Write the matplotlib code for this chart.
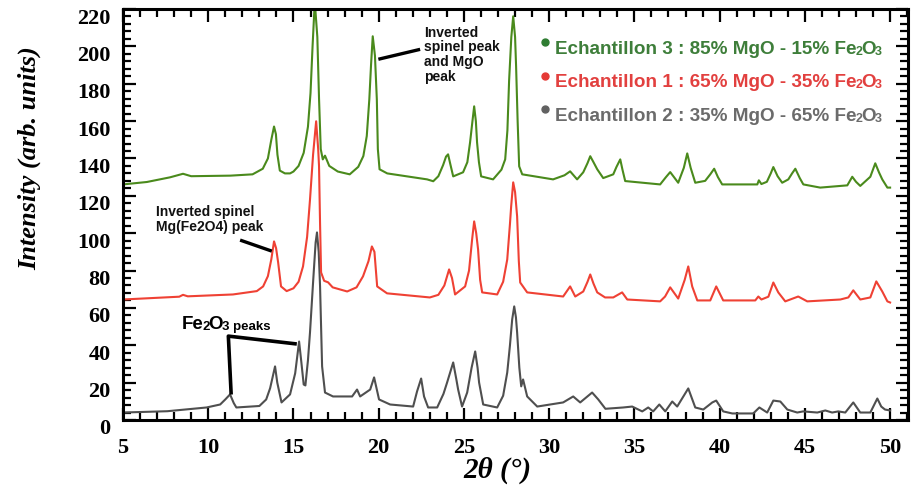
import matplotlib
matplotlib.use("Agg")
import matplotlib.pyplot as plt
import matplotlib.transforms as mtransforms
from matplotlib.ticker import MultipleLocator

# XRD patterns: (2theta in degrees, intensity in arb. units)
green_pts = [(5.0, 126.1), (6.4, 127.4), (7.76, 129.9), (8.52, 131.8), (9.0, 130.5), (11.3, 130.8),
             (12.6, 131.5), (13.2, 134.5), (13.5, 140.0), (13.7, 150.0), (13.86, 157.1), (13.97, 153.0),
             (14.06, 142.0), (14.2, 133.5), (14.5, 132.0), (14.8, 132.0), (15.0, 133.0), (15.3, 136.0),
             (15.6, 143.0), (15.85, 157.0), (16.0, 175.0), (16.12, 200.0), (16.25, 224.0), (16.4, 205.0),
             (16.5, 172.0), (16.6, 145.0), (16.72, 139.5), (16.85, 141.5), (17.1, 136.0), (17.6, 133.0),
             (18.3, 131.5), (18.8, 135.5), (19.1, 141.3), (19.3, 152.0), (19.45, 171.7), (19.55, 190.0),
             (19.65, 205.4), (19.78, 195.0), (19.89, 171.7), (19.95, 145.0), (20.05, 134.2), (20.5, 132.0),
             (22.84, 128.8), (23.2, 127.8), (23.5, 130.5), (23.78, 136.5), (23.95, 141.0), (24.07, 142.2),
             (24.2, 137.0), (24.37, 130.4), (24.95, 132.6), (25.2, 138.0), (25.36, 148.6), (25.5, 160.0),
             (25.6, 167.9), (25.7, 160.0), (25.77, 148.6), (25.88, 138.0), (26.01, 130.4), (26.71, 128.8),
             (27.2, 134.0), (27.42, 139.5), (27.55, 155.0), (27.65, 181.7), (27.78, 205.0), (27.89, 216.1),
             (28.0, 205.0), (28.06, 189.3), (28.15, 160.0), (28.24, 135.8), (28.42, 131.5), (30.23, 128.8),
             (30.9, 131.0), (31.23, 133.1), (31.64, 128.8), (32.0, 132.6), (32.25, 137.5), (32.41, 141.2),
             (32.6, 138.0), (32.82, 134.2), (33.17, 129.5), (33.76, 131.5), (33.95, 135.5), (34.17, 139.5),
             (34.3, 134.0), (34.46, 127.9), (36.51, 126.1), (36.85, 130.0), (37.1, 132.7), (37.57, 127.0),
             (37.9, 135.0), (38.1, 142.7), (38.3, 135.0), (38.57, 127.0), (39.15, 128.0), (39.45, 131.5),
             (39.68, 134.5), (39.9, 130.0), (40.15, 126.1), (42.21, 126.1), (42.3, 128.3), (42.45, 126.3),
             (42.77, 127.5), (43.0, 132.0), (43.15, 135.4), (43.4, 130.5), (43.67, 127.0), (44.03, 128.8),
             (44.25, 132.0), (44.44, 134.5), (44.7, 129.5), (44.91, 126.1), (45.9, 124.4), (47.49, 125.6),
             (47.78, 130.2), (48.0, 127.5), (48.25, 125.3), (48.84, 130.2), (49.13, 137.4), (49.35, 132.5),
             (49.54, 128.8), (49.84, 124.4), (50.0, 124.4)]

red_pts = [(5.0, 64.5), (8.3, 66.0), (8.52, 67.0), (8.8, 66.2), (11.45, 67.2), (12.85, 69.0), (13.22, 71.5),
           (13.5, 77.0), (13.7, 86.0), (13.86, 95.6), (13.98, 92.0), (14.1, 84.4), (14.27, 71.5), (14.6, 69.0),
           (15.0, 70.5), (15.3, 74.0), (15.56, 82.2), (15.8, 98.0), (15.97, 118.0), (16.15, 142.0),
           (16.33, 159.9), (16.45, 145.0), (16.5, 135.8), (16.56, 105.0), (16.62, 79.0), (16.8, 74.5),
           (17.03, 73.7), (17.3, 71.0), (18.15, 68.8), (18.7, 71.0), (19.08, 76.9), (19.4, 85.0), (19.6, 92.9),
           (19.75, 90.0), (19.91, 71.5), (20.49, 67.8), (23.0, 65.6), (23.5, 67.0), (23.85, 72.0),
           (24.13, 80.6), (24.3, 76.0), (24.48, 67.2), (25.07, 71.5), (25.3, 80.0), (25.48, 96.7),
           (25.6, 106.3), (25.72, 100.0), (25.83, 91.3), (25.95, 75.0), (26.07, 68.3), (26.95, 67.2),
           (27.3, 74.0), (27.54, 85.9), (27.7, 105.0), (27.77, 114.3), (27.89, 127.2), (28.0, 122.0),
           (28.12, 109.0), (28.22, 85.0), (28.3, 73.6), (28.71, 68.3), (30.82, 66.1), (31.23, 71.5),
           (31.53, 66.1), (32.0, 68.8), (32.25, 74.0), (32.41, 77.9), (32.6, 73.0), (32.82, 68.3),
           (33.28, 65.6), (33.76, 65.6), (34.28, 68.3), (34.58, 64.5), (36.51, 63.5), (36.8, 66.1),
           (37.1, 71.0), (37.57, 65.0), (37.95, 75.0), (38.16, 82.2), (38.39, 71.5), (38.69, 64.0),
           (39.45, 64.0), (39.8, 71.5), (40.21, 64.0), (42.09, 64.0), (42.27, 66.1), (42.45, 64.5),
           (42.86, 66.0), (43.15, 73.6), (43.44, 68.3), (43.85, 63.5), (44.61, 66.1), (45.14, 63.5),
           (47.08, 64.5), (47.55, 65.6), (47.84, 69.4), (48.25, 64.5), (48.84, 65.6), (49.19, 74.2),
           (49.54, 68.8), (49.84, 63.5), (50.0, 62.9)]

gray_pts = [(5.0, 4.0), (7.6, 4.7), (9.9, 6.7), (10.7, 8.3), (11.0, 11.0), (11.28, 13.7), (11.5, 9.0),
            (11.65, 6.7), (13.0, 7.5), (13.4, 11.0), (13.63, 17.0), (13.92, 28.7), (14.05, 20.0),
            (14.3, 9.4), (14.8, 13.7), (15.1, 25.0), (15.33, 42.0), (15.45, 32.0), (15.6, 19.0),
            (15.7, 18.5), (15.85, 32.0), (15.97, 46.9), (16.15, 73.6), (16.3, 95.0), (16.38, 100.4),
            (16.48, 90.0), (16.56, 71.5), (16.62, 50.0), (16.68, 28.7), (16.85, 14.7), (17.32, 12.6),
            (18.44, 12.6), (18.73, 16.3), (18.91, 12.6), (19.5, 16.3), (19.73, 22.8), (20.02, 11.0),
            (20.67, 8.3), (22.02, 7.2), (22.25, 15.3), (22.49, 22.2), (22.66, 12.6), (22.9, 6.7),
            (23.43, 6.7), (23.8, 14.0), (24.01, 20.0), (24.37, 30.8), (24.55, 22.0), (24.66, 16.3),
            (24.89, 7.2), (25.19, 14.7), (25.45, 28.0), (25.66, 36.7), (25.8, 28.0), (25.89, 20.0),
            (26.13, 8.3), (26.95, 6.7), (27.3, 13.0), (27.54, 25.4), (27.7, 40.0), (27.83, 53.8),
            (27.95, 60.8), (28.05, 55.0), (28.12, 46.9), (28.25, 28.0), (28.36, 18.0), (28.47, 21.7),
            (28.71, 12.6), (29.3, 7.2), (30.82, 9.4), (31.41, 12.6), (31.82, 9.4), (32.52, 14.7),
            (32.88, 11.0), (33.3, 6.0), (34.34, 6.7), (34.87, 7.2), (35.46, 4.6), (35.81, 6.7), (36.1, 4.6),
            (36.46, 8.3), (36.81, 4.6), (37.22, 9.9), (37.51, 7.2), (38.16, 16.9), (38.57, 6.7), (39.04, 5.6),
            (39.57, 9.4), (39.8, 10.4), (40.21, 4.6), (40.74, 3.5), (41.97, 3.5), (42.33, 6.7), (42.79, 4.0),
            (43.15, 10.4), (43.56, 9.9), (43.97, 5.6), (44.55, 4.0), (44.9, 4.6), (45.73, 4.0), (46.2, 5.1),
            (46.6, 4.0), (46.96, 4.6), (47.37, 4.0), (47.84, 9.4), (48.25, 4.0), (48.84, 4.0), (49.25, 11.5),
            (49.48, 7.2), (49.7, 5.6), (50.0, 5.1)]

legend_items = [
    ("Echantillon 3 : 85% MgO - 15% Fe", "#2f7d32", "#3e7e3a"),
    ("Echantillon 1 : 65% MgO - 35% Fe", "#e53935", "#e2403f"),
    ("Echantillon 2 : 35% MgO - 65% Fe", "#616161", "#6b6b6b"),
]

plt.rcParams["font.family"] = "Liberation Serif"
plt.rcParams["font.weight"] = "bold"


def chain_text(ax, x, y, parts, color, transform, family="Liberation Sans"):
    # pieces of text written one after the other; the small digits stay on the line
    s, size = parts[0]
    t = ax.text(x, y, s, fontsize=size, color=color, transform=transform,
                va="baseline", ha="left", family=family, fontweight="bold")
    for s, size in parts[1:]:
        t = ax.annotate(s, xy=(1, 0), xycoords=t, xytext=(-0.8, 0), textcoords="offset points",
                        fontsize=size, color=color, va="bottom", ha="left", family=family,
                        fontweight="bold")
    return t


fig = plt.figure(figsize=(9.22, 4.89), dpi=100)
ax = fig.add_axes([123 / 922, 1 - 421 / 489, (908 - 123) / 922, (421 - 10) / 489])

for pts, col in [(gray_pts, "#4f4f4f"), (red_pts, "#ef4134"), (green_pts, "#4a8a1c")]:
    xs, ys = zip(*pts)
    ax.plot(xs, ys, color=col, lw=1.5)

ax.set_xlim(5, 51.05)
ax.set_ylim(0, 220)
ax.xaxis.set_major_locator(MultipleLocator(5))
ax.xaxis.set_minor_locator(MultipleLocator(1))
ax.yaxis.set_major_locator(MultipleLocator(20))
ax.yaxis.set_minor_locator(MultipleLocator(4))
ax.tick_params(which="both", direction="in", top=True, right=True, width=1.6, labelsize=16)
ax.tick_params(which="major", length=9)
ax.tick_params(which="minor", length=5.5)
ax.tick_params(axis="y", pad=9)
ax.tick_params(axis="x", pad=12)
for sp in ax.spines.values():
    sp.set_linewidth(2.2)

# y labels in the reference sit a bit below their ticks
shift = mtransforms.ScaledTranslation(0, -6 / 100, fig.dpi_scale_trans)
for lab in ax.get_yticklabels():
    lab.set_transform(lab.get_transform() + shift)

fig.text(30 / 922, 1 - 158 / 489, "Intensity (arb. units)", rotation=90, ha="center", va="center",
         fontsize=19, fontstyle="italic", fontweight="bold")
fig.text(497 / 922, 1 - 470 / 489, "2θ (°)", ha="center", va="center",
         fontsize=21, fontstyle="italic", fontweight="bold")

# legend: coloured dots and coloured text
for i, (label, mcol, tcol) in enumerate(legend_items):
    ax.plot([0.5376], [0.919 - i * 0.081], "o", color=mcol, ms=5, transform=ax.transAxes,
            clip_on=False)
    chain_text(ax, 0.5503, 0.893 - i * 0.081, [(label, 13.6), ("2", 9), ("O", 13.6), ("3", 9)],
               tcol, ax.transAxes)

# annotations
ax.text(22.66, 211.5, "Inverted\nspinel peak\nand MgO\npeak", ha="left", va="top", fontsize=10,
        family="Liberation Sans", fontweight="bold", linespacing=1.05, color="#111111")
ax.plot([19.98, 22.43], [193.1, 198.4], color="black", lw=2.4, solid_capstyle="butt")

ax.text(6.94, 115.4, "Inverted spinel\nMg(Fe2O4) peak", ha="left", va="top", fontsize=10,
        family="Liberation Sans", fontweight="bold", linespacing=1.05, color="#111111")
ax.plot([11.87, 13.73], [96.3, 90.4], color="black", lw=2.4, solid_capstyle="butt")

chain_text(ax, 8.44, 49.4, [("Fe", 13.5), ("2", 9.5), ("O", 13.5), ("3 peaks", 9.5)], "black",
           ax.transData)
ax.plot([11.34, 11.18, 15.09], [14.6, 44.9, 40.8], color="black", lw=2.6)

fig.savefig("out.png", dpi=100, facecolor="white")
